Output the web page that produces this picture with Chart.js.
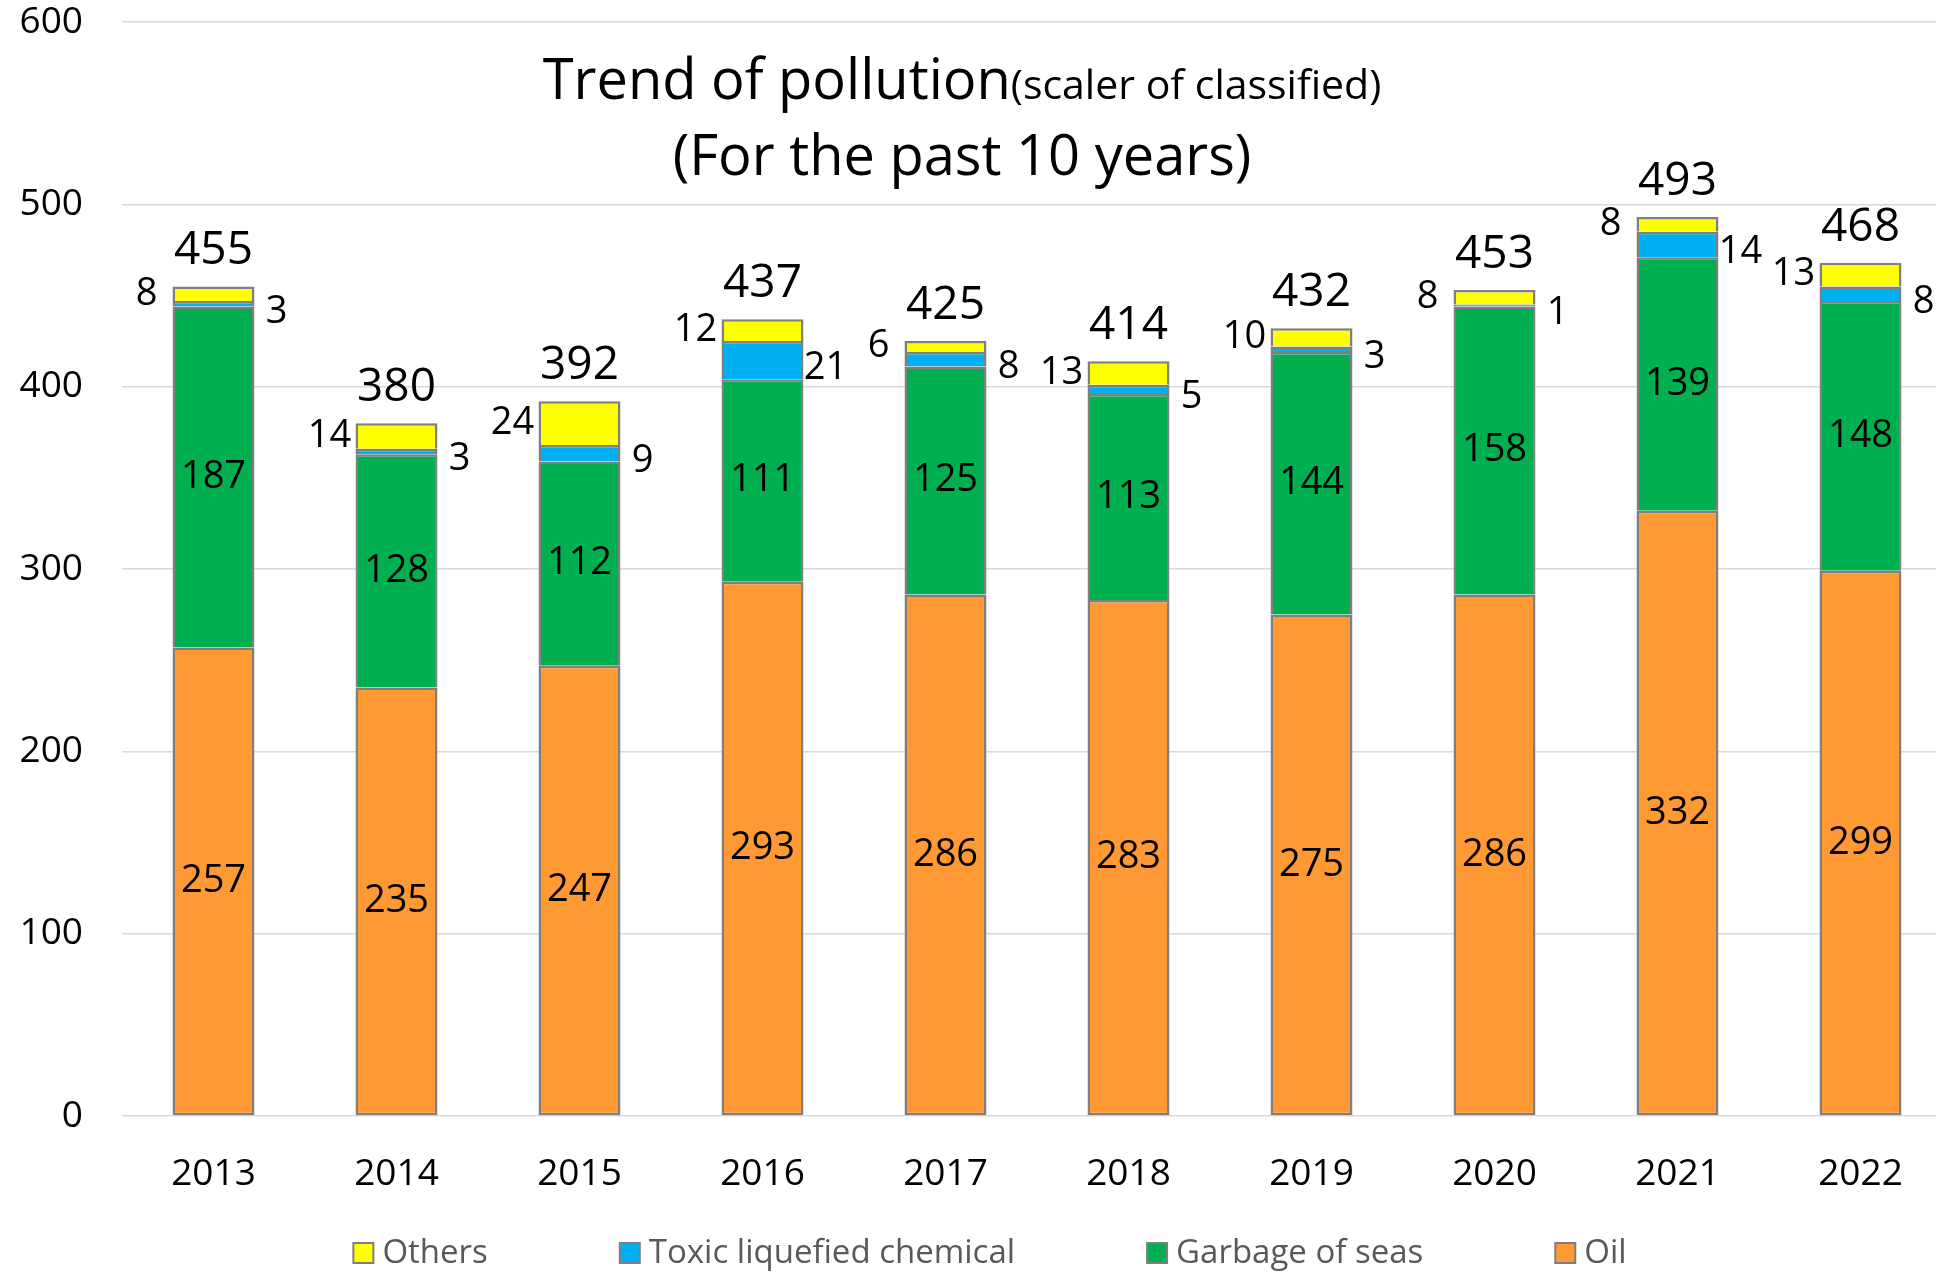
<!DOCTYPE html>
<html>
<head>
<meta charset="utf-8">
<script src="https://cdn.jsdelivr.net/npm/chart.js@4.4.0/dist/chart.umd.min.js"></script>
<style>
  html, body { margin: 0; padding: 0; background: #fff; overflow: hidden; }
</style>
</head>
<body>
<canvas id="pollution-chart" width="1978" height="1272"></canvas>
<script>
const years = ["2013", "2014", "2015", "2016", "2017", "2018", "2019", "2020", "2021", "2022"];
const oil = [257, 235, 247, 293, 286, 283, 275, 286, 332, 299];
const garbage = [187, 128, 112, 111, 125, 113, 144, 158, 139, 148];
const toxic = [3, 3, 9, 21, 8, 5, 3, 1, 14, 8];
const others = [8, 14, 24, 12, 6, 13, 10, 8, 8, 13];
const totals = [455, 380, 392, 437, 425, 414, 432, 453, 493, 468];

const FONT = "'Open Sans'";
const BORDER = "#7f7f7f";

// data labels: inside for oil/garbage, beside the bar for the thin ones
const segmentLabels = {
  id: "segmentLabels",
  afterDatasetsDraw(chart) {
    const ctx = chart.ctx;
    ctx.save();
    ctx.fillStyle = "#000";
    ctx.textAlign = "center";
    ctx.textBaseline = "middle";
    ctx.font = "38px " + FONT;
    chart.data.datasets.forEach((ds, di) => {
      const meta = chart.getDatasetMeta(di);
      meta.data.forEach((bar, i) => {
        const mid = (bar.y + bar.base) / 2;
        const half = bar.width / 2;
        if (ds.labelPos === "inside") ctx.fillText(ds.data[i], bar.x, mid);
        else if (ds.labelPos === "left") ctx.fillText(ds.data[i], bar.x - half - 26, mid);
        else if (ds.labelPos === "right") ctx.fillText(ds.data[i], bar.x + half + 22, mid + 8);
      });
    });
    ctx.font = "46px " + FONT;
    const topMeta = chart.getDatasetMeta(chart.data.datasets.length - 1);
    topMeta.data.forEach((bar, i) => {
      ctx.fillText(totals[i], bar.x, bar.y - 35);
    });
    ctx.restore();
  },
};

const titleText = {
  id: "titleText",
  afterDraw(chart) {
    const ctx = chart.ctx;
    const cx = 962;
    ctx.save();
    ctx.fillStyle = "#000";
    ctx.textBaseline = "alphabetic";
    ctx.textAlign = "left";
    const big = "56px " + FONT;
    const small = "41px " + FONT;
    const a = "Trend of pollution";
    const b = "(scaler of classified)";
    ctx.font = big;
    const wa = ctx.measureText(a).width;
    ctx.font = small;
    const wb = ctx.measureText(b).width;
    const x0 = cx - (wa + wb) / 2;
    ctx.font = big;
    ctx.fillText(a, x0, 99);
    ctx.font = small;
    ctx.fillText(b, x0 + wa, 99);
    ctx.font = big;
    ctx.textAlign = "center";
    ctx.fillText("(For the past 10 years)", cx, 175);
    ctx.restore();
  },
};

// legend along the bottom, same order as the stack from top down
const bottomLegend = {
  id: "bottomLegend",
  afterDraw(chart) {
    const ctx = chart.ctx;
    const items = chart.data.datasets.slice().reverse();
    const box = 20, gapText = 9, gapItem = 132;
    ctx.save();
    ctx.font = "33px " + FONT;
    const widths = items.map((ds) => box + gapText + ctx.measureText(ds.label).width);
    const total = widths.reduce((s, w) => s + w, 0) + gapItem * (items.length - 1);
    let x = 990 - total / 2;
    const y = 1253;
    items.forEach((ds, i) => {
      ctx.fillStyle = ds.backgroundColor;
      ctx.fillRect(x, y - box / 2, box, box);
      ctx.strokeStyle = BORDER;
      ctx.lineWidth = 2;
      ctx.strokeRect(x, y - box / 2, box, box);
      ctx.fillStyle = "#595959";
      ctx.textBaseline = "middle";
      ctx.fillText(ds.label, x + box + gapText, y + 1);
      x += widths[i] + gapItem;
    });
    ctx.restore();
  },
};

const ctx = document.getElementById("pollution-chart").getContext("2d");
const chart = new Chart(ctx, {
  type: "bar",
  data: {
    labels: years,
    datasets: [
      { label: "Oil", data: oil, backgroundColor: "#ff9933", borderSkipped: false, labelPos: "inside" },
      { label: "Garbage of seas", data: garbage, backgroundColor: "#00b050", labelPos: "inside" },
      { label: "Toxic liquefied chemical", data: toxic, backgroundColor: "#00b0f0", labelPos: "right" },
      { label: "Others", data: others, backgroundColor: "#ffff00", labelPos: "left" },
    ],
  },
  options: {
    responsive: false,
    animation: false,
    devicePixelRatio: 1,
    datasets: {
      bar: {
        borderColor: BORDER,
        borderWidth: 2.5,
        categoryPercentage: 1,
        barPercentage: 0.448,
      },
    },
    layout: {
      padding: { top: 22, right: 26, bottom: 0, left: 0 },
    },
    scales: {
      x: {
        stacked: true,
        grid: { display: false },
        border: { display: false },
        ticks: { color: "#000", padding: 28, font: { family: FONT, size: 37 } },
        afterFit(axis) { axis.height = 156; },
      },
      y: {
        stacked: true,
        min: 0,
        max: 600,
        grid: { color: "#d9d9d9", lineWidth: 1.5, drawTicks: false },
        border: { display: false },
        ticks: { stepSize: 100, color: "#000", padding: 39, font: { family: FONT, size: 37 } },
        afterFit(axis) {
          axis.width = 122;
          axis.paddingTop = 0;
        },
      },
    },
    plugins: {
      legend: { display: false },
      title: { display: false },
      tooltip: { enabled: false },
    },
  },
  plugins: [segmentLabels, titleText, bottomLegend],
});
</script>
</body>
</html>
